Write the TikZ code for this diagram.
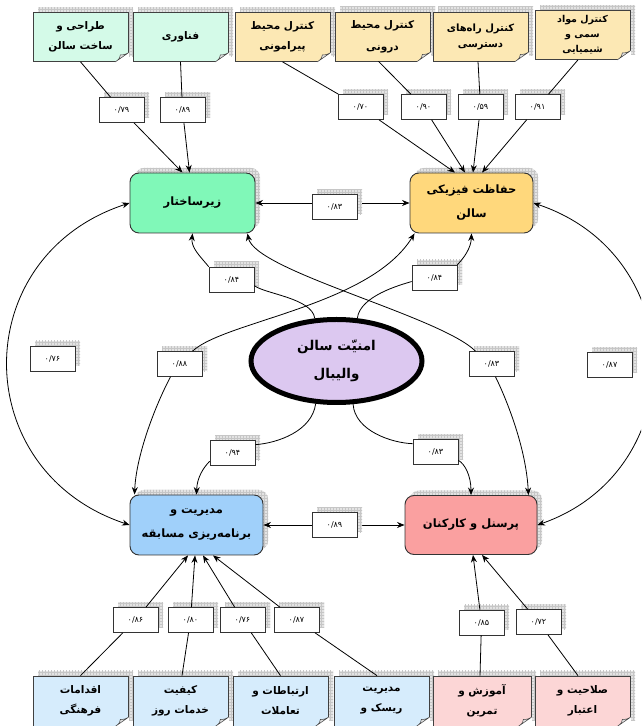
\documentclass[tikz,border=0pt]{standalone}
\usepackage{fontspec}
\newfontfamily\fa[Script=Arabic]{DejaVu Sans}
\TeXXeTstate=1
\usetikzlibrary{arrows.meta,shadows,shapes.geometric,patterns}
\newcommand{\rt}[1]{\beginR #1\endR}
\definecolor{cGreenL}{RGB}{212,250,232}
\definecolor{cYelL}{RGB}{252,232,180}
\definecolor{cBlueL}{RGB}{214,236,252}
\definecolor{cPinkL}{RGB}{252,214,214}
\definecolor{cInfra}{RGB}{128,248,184}
\definecolor{cPhys}{RGB}{255,216,124}
\definecolor{cMgmt}{RGB}{160,208,250}
\definecolor{cPers}{RGB}{250,160,160}
\definecolor{cEll}{RGB}{220,200,240}
\tikzset{
  shad/.style={general shadow={fill=gray!22, shadow xshift=5pt, shadow yshift=5pt},
               general shadow={pattern=grid, pattern color=gray!45, shadow xshift=5pt, shadow yshift=5pt}},
  notebox/.style={shad, draw=black!75, line width=0.7pt, minimum width=95pt, minimum height=49pt,
                  inner sep=2pt, align=center, font=\fa\bfseries\fontsize{10.5}{20}\selectfont},
  mainbox/.style={shad, draw=black!80, line width=0.9pt, rounded corners=9pt, minimum width=125pt,
                  minimum height=60pt, align=center, font=\fa\bfseries\fontsize{11.5}{24}\selectfont},
  lab/.style={shad, draw=black!80, fill=white, line width=0.7pt, minimum width=45pt, minimum height=25pt,
              inner sep=1pt, font=\fa\fontsize{8}{9}\selectfont},
  conn/.style={line width=0.8pt, black},
  arr/.style={conn, -{Stealth[length=7.5pt,width=6pt]}},
  darr/.style={conn, {Stealth[length=7.5pt,width=6pt]}-{Stealth[length=7.5pt,width=6pt]}},
}
\begin{document}
\begin{tikzpicture}[x=1pt,y=1pt]
\useasboundingbox (0,0) rectangle (641,726);
\clip (0,0) rectangle (641,726);
\fill[white] (0,0) rectangle (641,726);

% top boxes
\node[notebox, fill=cGreenL] (t1) at (80.5,689) {\rt{طراحی و}\\\rt{ساخت سالن}};
\node[notebox, fill=cGreenL] (t2) at (180.5,689) {\rt{فناوری}};
\node[notebox, fill=cYelL] (t3) at (282.5,689) {\rt{کنترل محیط}\\\rt{پیرامونی}};
\node[notebox, fill=cYelL, font=\fa\bfseries\fontsize{10.5}{22}\selectfont] (t4) at (382.5,689.5) {\rt{کنترل محیط}\\\rt{درونی}};
\node[notebox, fill=cYelL, font=\fa\bfseries\fontsize{10}{16}\selectfont] (t5) at (480.5,689.5) {\rt{کنترل راه‌های}\\\rt{دسترسی}};
\node[notebox, fill=cYelL, font=\fa\bfseries\fontsize{9.5}{15}\selectfont] (t6) at (582.5,691) {\rt{کنترل مواد}\\\rt{سمی و}\\\rt{شیمیایی}};

% bottom boxes
\node[notebox, fill=cBlueL, minimum height=50pt] (b1) at (80.5,25) {\rt{اقدامات}\\\rt{فرهنگی}};
\node[notebox, fill=cBlueL, minimum height=50pt] (b2) at (180.5,25) {\rt{کیفیت}\\\rt{خدمات روز}};
\node[notebox, fill=cBlueL, minimum height=50pt] (b3) at (280.5,25) {\rt{ارتباطات و}\\\rt{تعاملات}};
\node[notebox, fill=cBlueL, minimum height=50pt] (b4) at (381.5,25) {\rt{مدیریت}\\\rt{ریسک و}};
\node[notebox, fill=cPinkL, minimum height=50pt, minimum width=98pt] (b5) at (482,25) {\rt{آموزش و}\\\rt{تمرین}};
\node[notebox, fill=cPinkL, minimum height=50pt] (b6) at (582.5,25) {\rt{صلاحیت و}\\\rt{اعتبار}};

% folded corners
\foreach \n in {t1,t2,t3,t4,t5,t6,b1,b2,b3,b4,b5,b6}{
  \fill[white] ([xshift=-13pt]\n.south east) -- ([xshift=-13pt,yshift=-1pt]\n.south east)
     -- ([xshift=0.6pt,yshift=-1pt]\n.south east) -- ([xshift=0.6pt,yshift=9pt]\n.south east)
     -- ([yshift=9pt]\n.south east) -- cycle;
  \filldraw[fill=gray!25, draw=black!75, line width=0.5pt]
     ([xshift=-13pt]\n.south east) .. controls ([xshift=-9pt,yshift=3pt]\n.south east) ..
     ([xshift=-8pt,yshift=7pt]\n.south east) .. controls ([xshift=-4pt,yshift=7pt]\n.south east) ..
     ([yshift=9pt]\n.south east) -- cycle;
}

% main boxes
\node[mainbox, fill=cInfra] (infra) at (192.5,523) {\rt{زیرساختار}};
\node[mainbox, fill=cPhys, minimum width=123pt] (phys) at (471.5,523) {\rt{حفاظت فیزیکی}\\\rt{سالن}};
\node[mainbox, fill=cMgmt, minimum width=133pt] (mgmt) at (196.5,201) {\rt{مدیریت و}\\\rt{برنامه‌ریزی مسابقه}};
\node[mainbox, fill=cPers, minimum width=132pt, minimum height=59pt] (pers) at (471,201) {\rt{پرسنل و کارکنان}};
\node[ellipse, draw=black, line width=5pt, fill=cEll, minimum width=171pt, minimum height=83pt,
      align=center, font=\fa\bfseries\fontsize{13.5}{28}\selectfont] (ell) at (336.5,365) {\rt{امنیّت سالن}\\\rt{والیبال}};

% straight links between factors (behind labels)
\draw[darr] (infra) -- (phys);
\draw[darr] (mgmt) -- (pers);

% labels
\node[lab] (l1) at (121.5,616) {۰/۷۹};
\node[lab] (l2) at (182.5,616) {۰/۸۹};
\node[lab] (l3) at (360.5,619) {۰/۷۰};
\node[lab] (l4) at (423.5,619) {۰/۹۰};
\node[lab] (l5) at (480.5,619) {۰/۵۹};
\node[lab] (l6) at (537.5,619) {۰/۹۱};
\node[lab] (l83t) at (334.5,519) {۰/۸۳};
\node[lab] (l89) at (334.5,201) {۰/۸۹};
\node[lab] (l84L) at (231.5,446.5) {۰/۸۴};
\node[lab] (l84R) at (434.5,448.5) {۰/۸۴};
\node[lab] (l88) at (179.5,362) {۰/۸۸};
\node[lab] (l83R) at (491.5,362) {۰/۸۳};
\node[lab] (l94) at (232.5,273) {۰/۹۴};
\node[lab] (l83B) at (435.5,274) {۰/۸۳};
\node[lab] (l76) at (52.5,367.5) {۰/۷۶};
\node[lab] (l87) at (609.5,361) {۰/۸۷};
\node[lab] (m1) at (135.5,106) {۰/۸۶};
\node[lab] (m2) at (190.5,106) {۰/۸۰};
\node[lab] (m3) at (242.5,106) {۰/۷۶};
\node[lab] (m4) at (296.5,106) {۰/۸۷};
\node[lab] (m5) at (481.5,103.5) {۰/۸۵};
\node[lab] (m6) at (538.5,104) {۰/۷۲};

% indicator links (top)
\draw[arr] (t1.south) -- (l1) -- ([xshift=-10pt]infra.north);
\draw[arr] (t2.south) -- (l2) -- ([xshift=-3pt]infra.north);
\draw[arr] (t3.south) -- (l3) -- ([xshift=-16.5pt]phys.north);
\draw[arr] ([xshift=-4pt]t4.south) -- (l4) -- ([xshift=-6.5pt]phys.north);
\draw[arr] ([xshift=-2.5pt]t5.south) -- (l5) -- ([xshift=1.5pt]phys.north);
\draw[arr] ([xshift=-4.5pt]t6.south) -- (l6) -- ([xshift=10.5pt]phys.north);

% indicator links (bottom)
\draw[arr] (b1.north) -- (m1) -- ([xshift=-8.5pt]mgmt.south);
\draw[arr] ([xshift=1.5pt]b2.north) -- (m2) -- ([xshift=-1.5pt]mgmt.south);
\draw[arr] (b3.north) -- (m3) -- ([xshift=6.5pt]mgmt.south);
\draw[arr] ([xshift=-4.5pt]b4.north) -- (m4) -- ([xshift=16.5pt]mgmt.south);
\draw[arr] ([xshift=-2pt]b5.north) -- (m5) -- ([xshift=2pt]pers.south);
\draw[arr] ([xshift=-4.5pt]b6.north) -- (m6) -- ([xshift=11pt]pers.south);

% ellipse to factors
\draw[conn] (ell.117) .. controls (312,428) and (265,432) .. (l84L.-15);
\draw[arr] (l84L.north west) .. controls (200,470) and (191,478) .. (infra.south);
\draw[conn] (ell.64) .. controls (360,430) and (400,441) .. (l84R.190);
\draw[arr] (l84R.north east) .. controls (464,468) and (471,478) .. (phys.south);
\draw[conn] (ell.244) .. controls (312,295) and (278,283) .. (l94.20);
\draw[arr] (l94.200) .. controls (203,258) and (197,248) .. (mgmt.north);
\draw[conn] (ell.-69) .. controls (355,295) and (392,283) .. (l83B.160);
\draw[arr] (l83B.-20) .. controls (465,262) and (471,250) .. (pers.north);

% correlations (curved)
\draw[arr] ([xshift=-9pt]l88.south) .. controls (155,320) and (136,270) .. ([xshift=5pt]mgmt.north west);
\draw[arr] ([xshift=13pt]l88.north) .. controls (225,405) and (370,420) .. ([xshift=5pt]phys.south west);
\draw[arr] ([xshift=-16pt]l83R.north) .. controls (440,410) and (255,455) .. ([xshift=-8pt]infra.south east);
\draw[arr] ([xshift=4pt]l83R.south) .. controls (505,330) and (526,280) .. ([xshift=-9pt]pers.north east);
\draw[darr] (infra.west) .. controls (-33,470) and (-33,255) .. (mgmt.west);
\draw[darr] (phys.east) .. controls (692,470) and (692,255) .. (pers.east);
\end{tikzpicture}
\end{document}
